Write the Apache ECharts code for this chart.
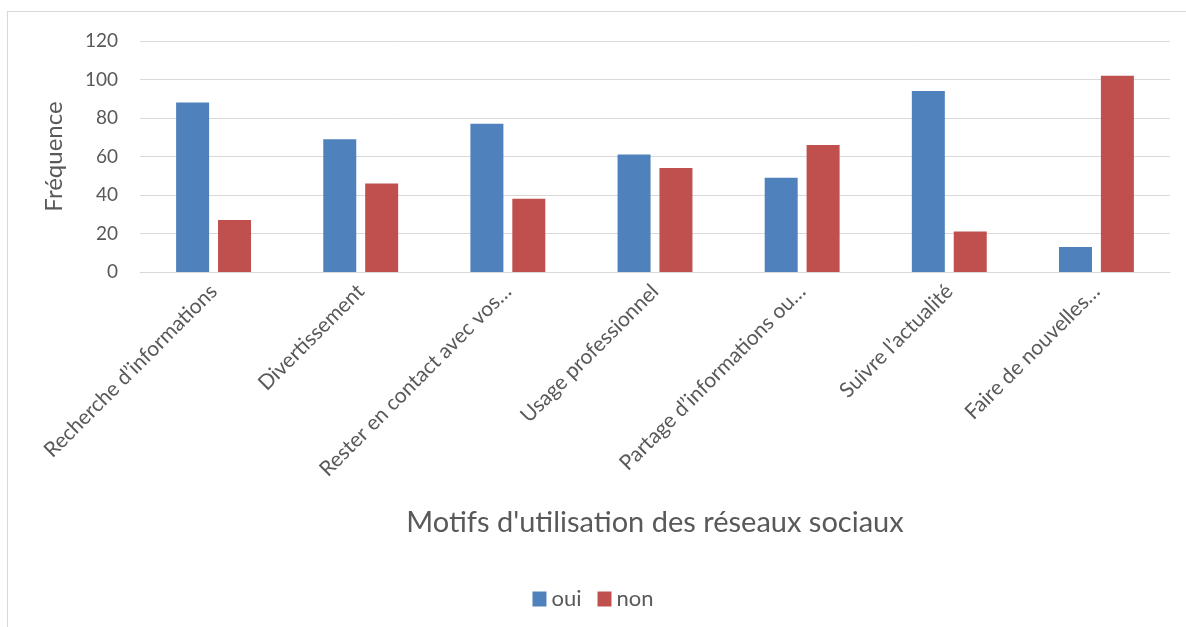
<!DOCTYPE html>
<html>
<head>
<meta charset="utf-8">
<script src="https://cdn.jsdelivr.net/npm/echarts@6/dist/echarts.min.js"></script>
<style>
  html, body { margin: 0; padding: 0; background: #fff; }
  #frame { position: absolute; left: 7px; top: 11px; width: 1200px; height: 640px; border: 1px solid #d9d9d9; box-sizing: border-box; }
  #chart { position: absolute; left: 0; top: 0; width: 1186px; height: 627px; }
</style>
</head>
<body>
<div id="frame"></div>
<div id="chart"></div>
<script>
// motifs d'utilisation
const categories = [
  'Recherche d’informations',
  'Divertissement',
  'Rester en contact avec vos…',
  'Usage professionnel',
  'Partage d’informations ou…',
  'Suivre l’actualité',
  'Faire de nouvelles…'
]
const ouiValues = [88, 69, 77, 61, 49, 94, 13]
const nonValues = [27, 46, 38, 54, 66, 21, 102]
const yTicks = [0, 20, 40, 60, 80, 100, 120]

const textColor = '#595959'
const fontFamily = 'Lato, "Open Sans", sans-serif'

const chart = echarts.init(document.getElementById('chart'))
chart.setOption({
  animation: false,
  textStyle: { fontFamily: fontFamily },
  grid: { left: 140, right: 16, top: 41, bottom: 355, containLabel: false },
  legend: {
    data: ['oui', 'non'],
    left: 'center',
    top: 583,
    itemWidth: 14,
    itemHeight: 15,
    itemGap: 16,
    icon: 'rect',
    textStyle: { color: textColor, fontSize: 22, fontFamily: fontFamily }
  },
  xAxis: {
    type: 'category',
    data: categories,
    name: "Motifs d'utilisation des réseaux sociaux",
    nameLocation: 'middle',
    nameGap: 236,
    nameTextStyle: { color: textColor, fontSize: 29, fontFamily: fontFamily },
    axisLine: { lineStyle: { color: '#d9d9d9', width: 1 } },
    axisTick: { show: false },
    axisLabel: {
      rotate: 45,
      margin: 16,
      interval: 0,
      color: textColor,
      fontSize: 21,
      fontFamily: fontFamily
    }
  },
  yAxis: {
    type: 'value',
    min: 0,
    max: 120,
    interval: 20,
    name: 'Fréquence',
    nameLocation: 'middle',
    nameGap: 74,
    nameTextStyle: { color: textColor, fontSize: 24, fontFamily: fontFamily },
    axisLine: { show: false },
    axisTick: { show: false },
    axisLabel: {
      color: textColor,
      fontSize: 19,
      margin: 22,
      fontFamily: fontFamily,
      formatter: v => yTicks.includes(v) ? String(v) : ''
    },
    splitLine: { lineStyle: { color: '#d9d9d9', width: 1 } }
  },
  series: [
    {
      name: 'oui',
      type: 'bar',
      data: ouiValues,
      barWidth: 33,
      barGap: '27%',
      itemStyle: { color: '#4F81BD' }
    },
    {
      name: 'non',
      type: 'bar',
      data: nonValues,
      barWidth: 33,
      itemStyle: { color: '#C0504D' }
    }
  ]
})
</script>
</body>
</html>
